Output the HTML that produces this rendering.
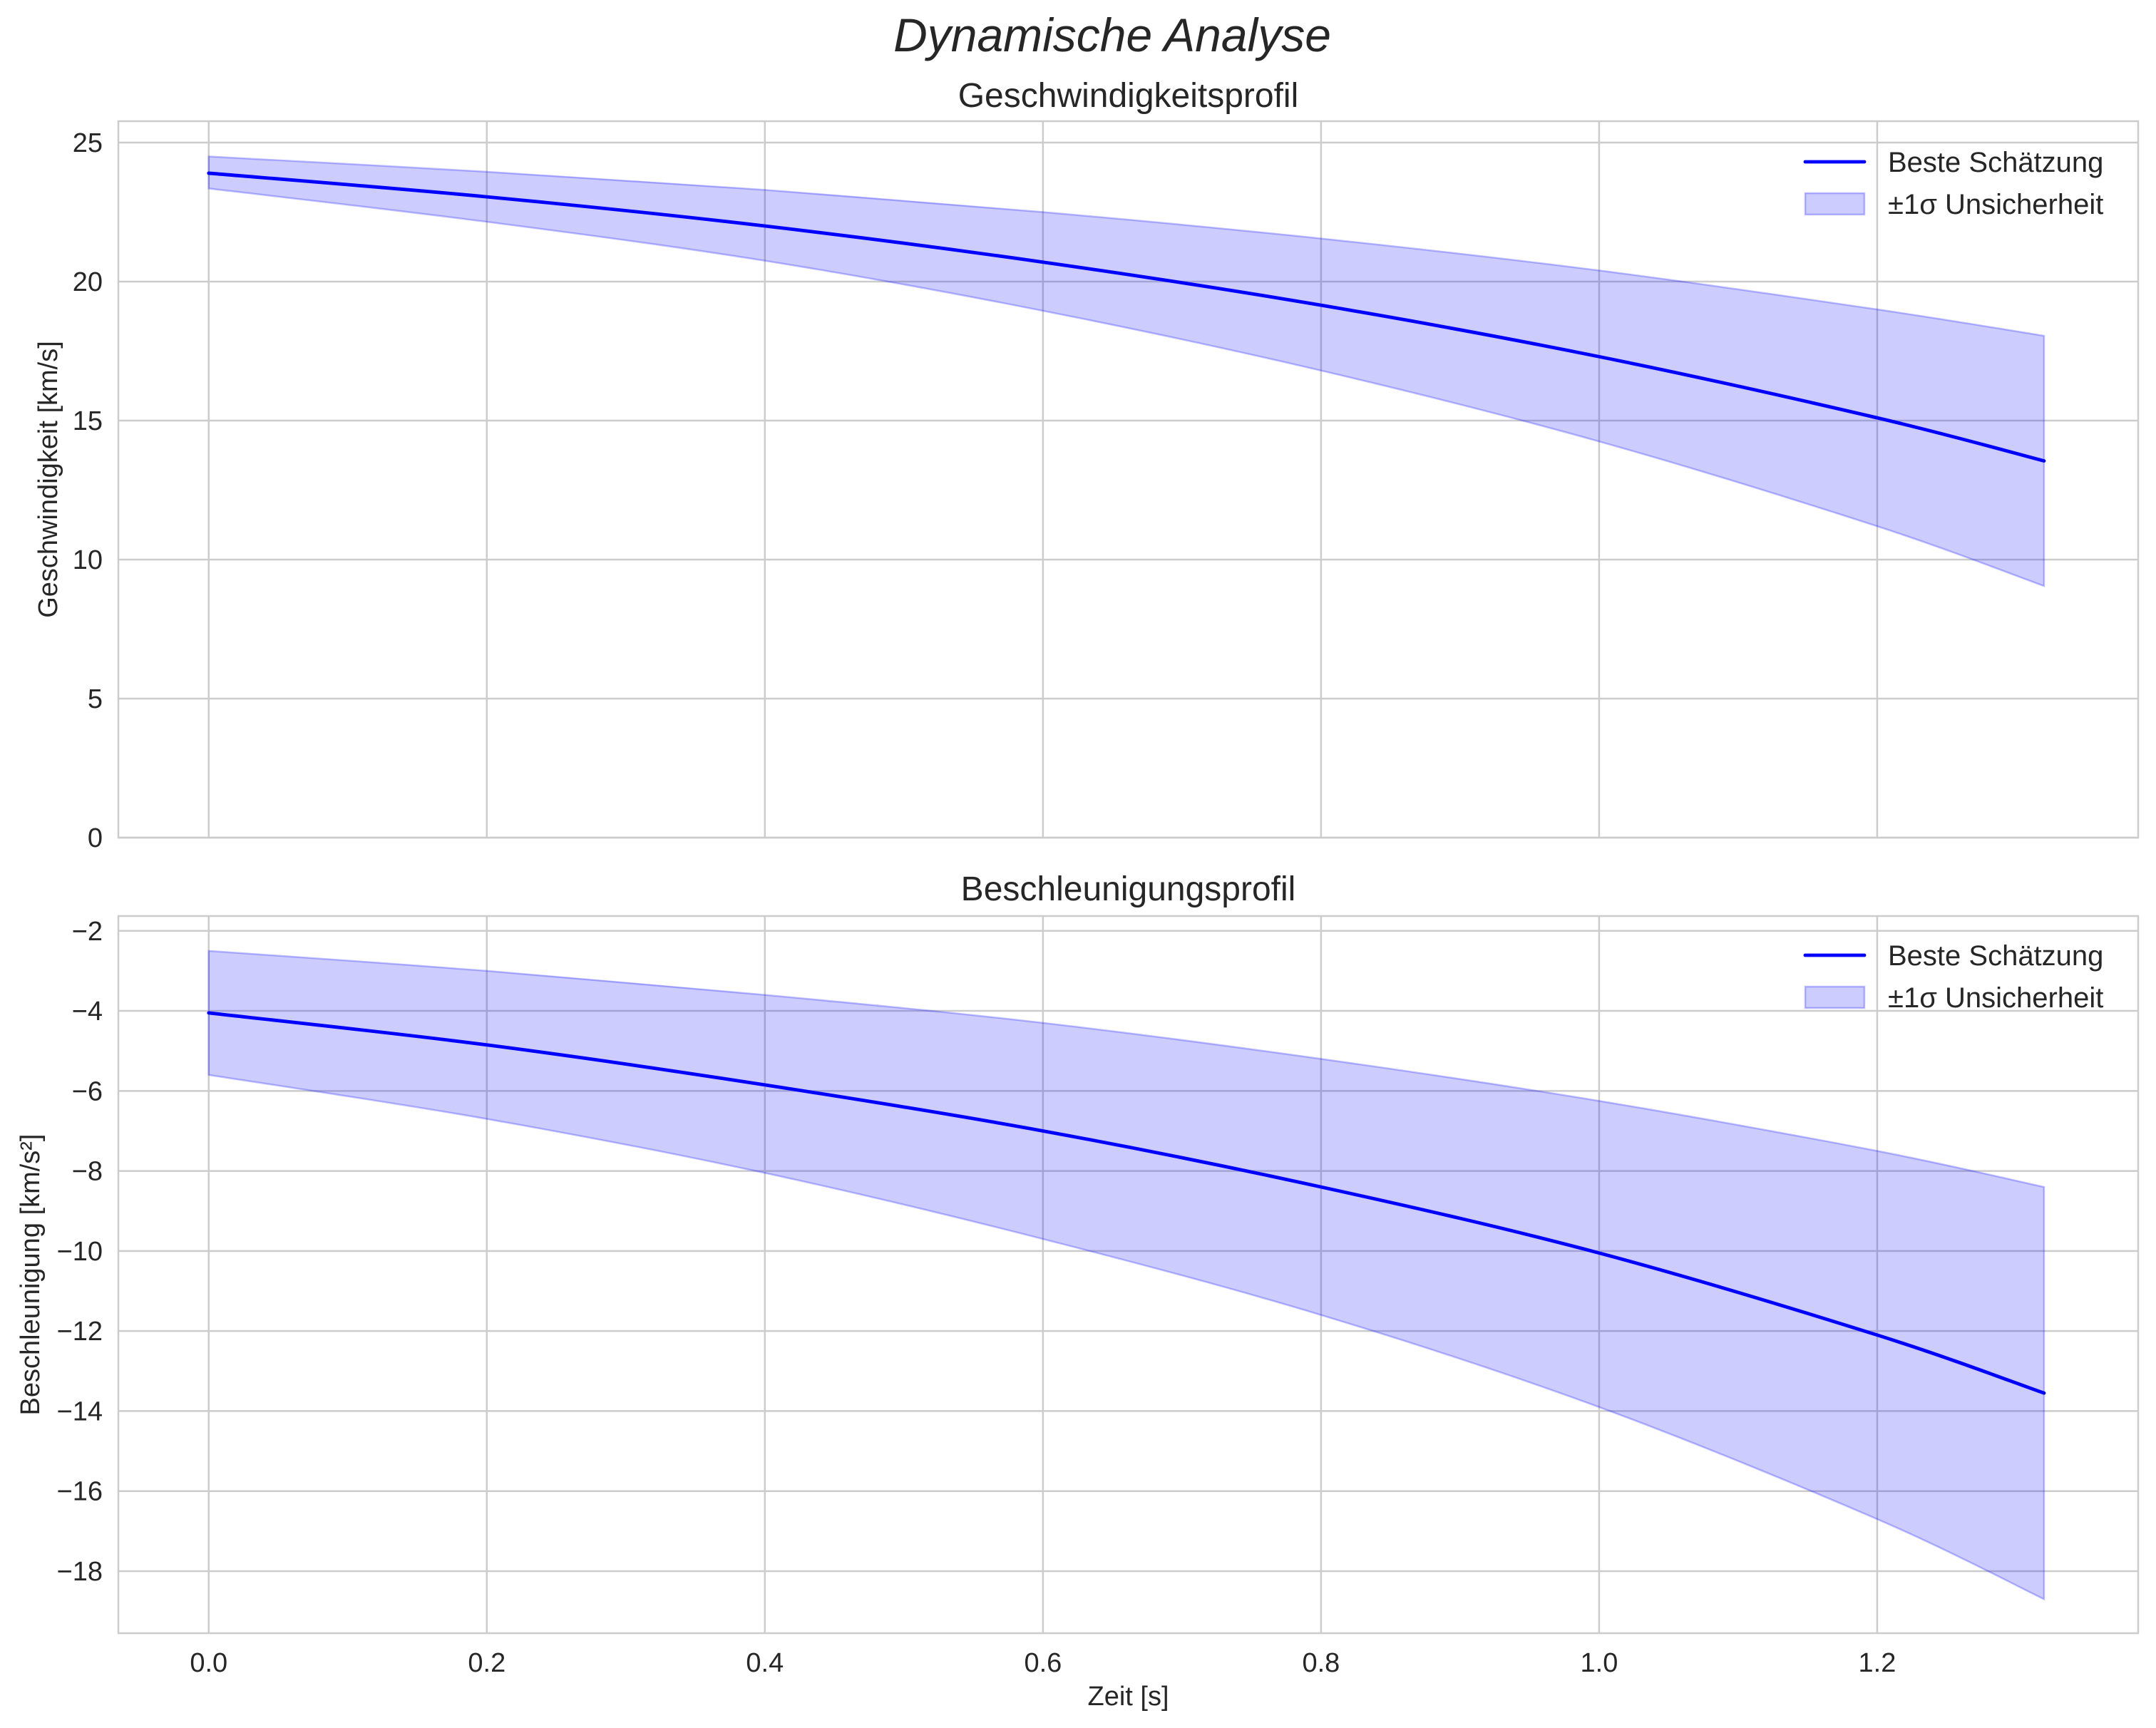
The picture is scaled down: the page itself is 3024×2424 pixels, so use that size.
<!DOCTYPE html>
<html><head><meta charset="utf-8"><style>
html,body{margin:0;padding:0;background:#fff;}
svg{display:block;font-family:"Liberation Sans",sans-serif;}
</style></head><body>
<svg id="chart" width="3024" height="2424" viewBox="0 0 3024 2424" xmlns="http://www.w3.org/2000/svg">
<text x="1560" y="72" text-anchor="middle" font-size="66" font-style="italic" fill="#262626">Dynamische Analyse</text>
</svg>
<script>
const xVals = [0, 0.2, 0.4, 0.6, 0.8, 1.0, 1.2, 1.32];
const velMean = [23.9, 23.05, 22.0, 20.7, 19.15, 17.3, 15.1, 13.55];
const velUpper = [24.5, 23.95, 23.3, 22.5, 21.55, 20.4, 19.0, 18.05];
const velLower = [23.35, 22.15, 20.75, 18.95, 16.8, 14.25, 11.2, 9.05];
const accMean = [-4.05, -4.85, -5.85, -7.0, -8.4, -10.05, -12.1, -13.55];
const accUpper = [-2.5, -3.0, -3.6, -4.3, -5.2, -6.25, -7.5, -8.4];
const accLower = [-5.6, -6.7, -8.05, -9.7, -11.6, -13.9, -16.7, -18.7];
const xTicks = [0, 0.2, 0.4, 0.6, 0.8, 1.0, 1.2];
const xTickLabels = ["0.0", "0.2", "0.4", "0.6", "0.8", "1.0", "1.2"];
const velTicks = [0, 5, 10, 15, 20, 25];
const accTicks = [-2, -4, -6, -8, -10, -12, -14, -16, -18];

const svg = document.getElementById('chart');
const NS = 'http://www.w3.org/2000/svg';
function mk(tag, attrs, parent) {
  const e = document.createElementNS(NS, tag);
  for (const k in attrs) e.setAttribute(k, attrs[k]);
  (parent || svg).appendChild(e);
  return e;
}
const L = 166, R = 2999, xMin = -0.065, xMax = 1.3877;
const xs = v => L + (v - xMin) / (xMax - xMin) * (R - L);

function smoothPath(pts) {
  let d = 'M' + pts[0][0] + ',' + pts[0][1];
  for (let i = 0; i < pts.length - 1; i++) {
    const p0 = pts[Math.max(i - 1, 0)], p1 = pts[i], p2 = pts[i + 1], p3 = pts[Math.min(i + 2, pts.length - 1)];
    const c1 = [p1[0] + (p2[0] - p0[0]) / 6, p1[1] + (p2[1] - p0[1]) / 6];
    const c2 = [p2[0] - (p3[0] - p1[0]) / 6, p2[1] - (p3[1] - p1[1]) / 6];
    d += ' C' + c1[0] + ',' + c1[1] + ' ' + c2[0] + ',' + c2[1] + ' ' + p2[0] + ',' + p2[1];
  }
  return d;
}

function panel(cfg) {
  const T = cfg.top, B = cfg.bottom;
  const ys = v => T + (cfg.yMax - v) / (cfg.yMax - cfg.yMin) * (B - T);
  const g = mk('g', {});
  
  
  xTicks.forEach((t, i) => {
    const l = mk('line', {x1: xs(t), x2: xs(t), y1: T, y2: B, stroke: '#cccccc', 'stroke-width': 2.5}, g);
    
    
    if (cfg.showX) {
      const tx = mk('text', {x: xs(t), y: B + 54, 'text-anchor': 'middle', 'font-size': 38, fill: '#262626'}, g);
      tx.textContent = xTickLabels[i];
      
      
    }
  });
  cfg.ticks.forEach(t => {
    const l = mk('line', {x1: L, x2: R, y1: ys(t), y2: ys(t), stroke: '#cccccc', 'stroke-width': 2.5}, g);
    
    
    const tx = mk('text', {x: L - 22, y: ys(t) + 13, 'text-anchor': 'end', 'font-size': 38, fill: '#262626'}, g);
    tx.textContent = String(t).replace('-', '\u2212');
    
    
  });
  const up = xVals.map((x, i) => [xs(x), ys(cfg.upper[i])]);
  const lo = xVals.map((x, i) => [xs(x), ys(cfg.lower[i])]).reverse();
  const lp = smoothPath(lo);
  const band = mk('path', {d: smoothPath(up) + ' L' + lo[0][0] + ',' + lo[0][1] + lp.slice(lp.indexOf(' ')) + ' Z',
    fill: 'rgba(0,0,255,0.2)', stroke: 'rgba(0,0,255,0.25)', 'stroke-width': 2.5}, g);
  
  
  const line = mk('path', {d: smoothPath(xVals.map((x, i) => [xs(x), ys(cfg.mean[i])])), fill: 'none', stroke: '#0000ff', 'stroke-width': 4.8, 'stroke-linecap': 'round'}, g);
  
  
  const fr = mk('rect', {x: L, y: T, width: R - L, height: B - T, fill: 'none', stroke: '#cccccc', 'stroke-width': 2.5}, g);
  
  
  const ti = mk('text', {x: (L + R) / 2, y: cfg.titleY, 'text-anchor': 'middle', 'font-size': 48, fill: '#262626'}, g);
  ti.textContent = cfg.title;
  
  
  const yl = mk('text', {x: 0, y: 0, transform: 'translate(' + cfg.ylX + ',' + (T + B) / 2 + ') rotate(-90)', 'text-anchor': 'middle', 'font-size': 38, fill: '#262626'}, g);
  yl.textContent = cfg.ylabel;
  
  
  const lg = mk('g', {}, g);
  
  
  const l1 = mk('line', {x1: 2532, x2: 2615, y1: cfg.legY, y2: cfg.legY, stroke: '#0000ff', 'stroke-width': 4.8, 'stroke-linecap': 'round'}, lg);
  
  
  const t1 = mk('text', {x: 2648, y: cfg.legY + 14, 'font-size': 40, fill: '#262626'}, lg);
  t1.textContent = 'Beste Schätzung';
  
  
  const r2 = mk('rect', {x: 2532, y: cfg.legY + 44, width: 83, height: 30, fill: 'rgba(0,0,255,0.2)', stroke: 'rgba(0,0,255,0.25)', 'stroke-width': 2.5}, lg);
  
  
  const t2 = mk('text', {x: 2648, y: cfg.legY + 73, 'font-size': 40, fill: '#262626'}, lg);
  t2.textContent = '±1σ Unsicherheit';
  
  
}

panel({name: 'velocity-panel', top: 170, bottom: 1175, yMin: 0, yMax: 25.77, ticks: velTicks, mean: velMean, upper: velUpper, lower: velLower,
  title: 'Geschwindigkeitsprofil', titleY: 150, ylabel: 'Geschwindigkeit [km/s]', ylX: 80, legY: 227, showX: false});
panel({name: 'acceleration-panel', top: 1285, bottom: 2291, yMin: -19.55, yMax: -1.63, ticks: accTicks, mean: accMean, upper: accUpper, lower: accLower,
  title: 'Beschleunigungsprofil', titleY: 1263, ylabel: 'Beschleunigung [km/s²]', ylX: 55, legY: 1340, showX: true});

const xl = mk('text', {x: (L + R) / 2, y: 2392, 'text-anchor': 'middle', 'font-size': 38, fill: '#262626'});
xl.textContent = 'Zeit [s]';


</script>
</body></html>
